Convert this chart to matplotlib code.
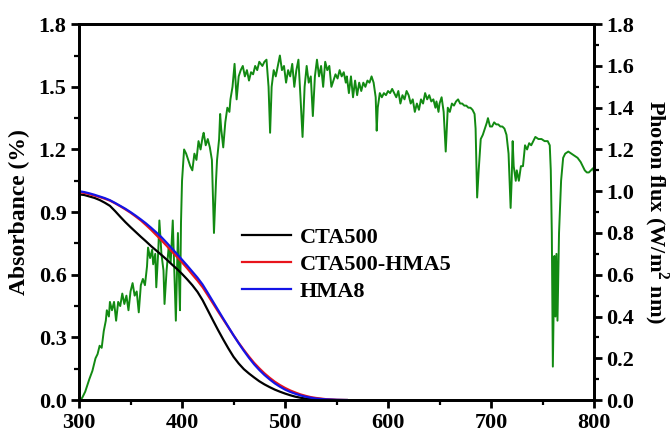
import numpy as np
import matplotlib
matplotlib.use('Agg')
import matplotlib.pyplot as plt
from matplotlib.ticker import MultipleLocator

plt.rcParams['font.family'] = ['Liberation Serif', 'DejaVu Serif']
plt.rcParams['font.weight'] = 'bold'
plt.rcParams['axes.labelweight'] = 'bold'
plt.rcParams['mathtext.fontset'] = 'custom'
plt.rcParams['mathtext.rm'] = 'Liberation Serif:bold'
plt.rcParams['mathtext.bf'] = 'Liberation Serif:bold'

# absorbance curves (left axis)
wl = [300, 305, 310, 315, 320, 325, 330, 335, 340, 345, 350, 355, 360, 365, 370, 375,
      380, 385, 390, 395, 400, 405, 410, 415, 420, 425, 430, 435, 440, 445, 450, 455,
      460, 465, 470, 475, 480, 485, 490, 495, 500, 505, 510, 515, 520, 525, 530, 540,
      550, 560]
cta500 = [0.985, 0.982, 0.975, 0.968, 0.958, 0.945, 0.930, 0.905, 0.878, 0.852, 0.828, 0.805,
          0.782, 0.760, 0.737, 0.716, 0.695, 0.673, 0.650, 0.628, 0.604, 0.578, 0.550, 0.518,
          0.478, 0.430, 0.382, 0.335, 0.290, 0.247, 0.207, 0.175, 0.148, 0.127, 0.108, 0.090,
          0.075, 0.062, 0.050, 0.040, 0.031, 0.023, 0.016, 0.011, 0.007, 0.005, 0.003, 0.001,
          0.0, 0.0]
cta500_hma5 = [0.995, 0.992, 0.986, 0.979, 0.972, 0.964, 0.955, 0.942, 0.928, 0.913, 0.897, 0.879,
               0.860, 0.838, 0.815, 0.790, 0.765, 0.739, 0.712, 0.686, 0.659, 0.631, 0.601, 0.572,
               0.540, 0.502, 0.463, 0.424, 0.386, 0.348, 0.310, 0.274, 0.240, 0.208, 0.178, 0.152,
               0.128, 0.107, 0.088, 0.072, 0.058, 0.046, 0.036, 0.027, 0.020, 0.014, 0.010, 0.004,
               0.001, 0.0]
hma8 = [1.000, 0.996, 0.990, 0.983, 0.975, 0.967, 0.957, 0.944, 0.930, 0.916, 0.900, 0.883,
        0.865, 0.846, 0.825, 0.803, 0.780, 0.754, 0.727, 0.700, 0.672, 0.644, 0.615, 0.586,
        0.553, 0.513, 0.472, 0.431, 0.390, 0.350, 0.310, 0.272, 0.236, 0.202, 0.171, 0.144,
        0.120, 0.099, 0.080, 0.064, 0.050, 0.039, 0.030, 0.022, 0.016, 0.011, 0.007, 0.003,
        0.001, 0.0]

# solar photon flux (right axis)
flux_nm = [300, 303, 306, 310, 313, 316, 318, 320, 322, 324, 326, 327, 329, 330, 332, 334, 336, 338, 340,
           342, 344, 346, 348, 350, 352, 354, 356, 358, 360, 362, 364, 366, 367, 369, 371, 372, 374, 375,
           377, 378, 380, 382, 383, 385, 387, 389, 391, 393, 394, 396, 397, 398, 399, 400, 402, 404, 406,
           408, 410, 412, 414, 416, 418, 420, 421, 423, 425, 427, 429, 431, 433, 434, 436, 437, 438, 440,
           442, 444, 446, 447, 449, 451, 453, 455, 457, 459, 461, 463, 465, 467, 469, 471, 473, 475, 478,
           480, 482, 484, 485.5, 487, 489, 491, 493, 495, 497, 499, 501, 503, 505, 507, 509, 511, 513, 515,
           517, 519, 521, 523, 525, 527, 529, 531, 533, 535, 537, 539, 541, 543, 545, 547, 549, 551, 553,
           555, 557, 559, 560, 562, 564, 566, 568, 570, 572, 574, 576, 578, 580, 582, 584, 586, 588, 589,
           590, 592, 594, 596, 598, 600, 602, 604, 606, 608, 610, 612, 614, 616, 618, 620, 622, 624, 626,
           628, 630, 632, 634, 636, 638, 640, 642, 644, 646, 647, 649, 650, 652, 654, 656, 657, 658, 660,
           662, 664, 666, 668, 670, 672, 674, 676, 678, 680, 682, 684, 685, 686.5, 688, 690, 692, 694, 696,
           697, 699, 701, 703, 705, 707, 709, 711, 713, 715, 717, 719, 720, 721, 722, 724, 725, 727, 729,
           731, 733, 735, 737, 739, 741, 743, 746, 749, 752, 755, 757, 758, 759, 760, 761.5, 762.5, 763.5,
           764.5, 766, 768, 770, 772, 775, 778, 781, 784, 787, 789, 791, 793, 795, 797, 799, 800]
flux_val = [0.0, 0.01, 0.04, 0.10, 0.14, 0.20, 0.22, 0.26, 0.25, 0.33, 0.38, 0.43, 0.40, 0.47, 0.43, 0.47, 0.38, 0.47, 0.45,
            0.51, 0.46, 0.50, 0.43, 0.52, 0.56, 0.50, 0.52, 0.42, 0.55, 0.58, 0.55, 0.64, 0.73, 0.68, 0.72, 0.65, 0.70, 0.54,
            0.72, 0.86, 0.70, 0.62, 0.46, 0.62, 0.73, 0.66, 0.86, 0.55, 0.38, 0.80, 0.60, 0.43, 0.85, 1.05, 1.20, 1.18, 1.15,
            1.12, 1.10, 1.18, 1.15, 1.24, 1.20, 1.26, 1.28, 1.22, 1.25, 1.21, 1.15, 0.80, 1.05, 1.15, 1.25, 1.37, 1.30, 1.21,
            1.33, 1.40, 1.38, 1.44, 1.50, 1.61, 1.44, 1.55, 1.58, 1.60, 1.55, 1.58, 1.53, 1.57, 1.56, 1.60, 1.58, 1.62, 1.60,
            1.62, 1.63, 1.50, 1.28, 1.50, 1.58, 1.55, 1.60, 1.65, 1.58, 1.60, 1.52, 1.58, 1.55, 1.61, 1.50, 1.58, 1.63, 1.45,
            1.26, 1.50, 1.60, 1.52, 1.55, 1.36, 1.55, 1.63, 1.55, 1.60, 1.50, 1.62, 1.58, 1.60, 1.50, 1.53, 1.56, 1.54, 1.58,
            1.55, 1.57, 1.52, 1.55, 1.47, 1.55, 1.45, 1.53, 1.46, 1.52, 1.48, 1.52, 1.50, 1.53, 1.52, 1.55, 1.52, 1.45, 1.29,
            1.40, 1.47, 1.45, 1.47, 1.46, 1.48, 1.47, 1.49, 1.47, 1.45, 1.48, 1.42, 1.46, 1.44, 1.48, 1.46, 1.42, 1.44, 1.38,
            1.42, 1.39, 1.44, 1.42, 1.47, 1.44, 1.46, 1.43, 1.44, 1.40, 1.43, 1.38, 1.42, 1.45, 1.38, 1.19, 1.30, 1.40, 1.38,
            1.42, 1.41, 1.43, 1.44, 1.42, 1.42, 1.41, 1.41, 1.40, 1.40, 1.39, 1.37, 1.30, 0.97, 1.10, 1.25, 1.27, 1.30, 1.33,
            1.35, 1.31, 1.31, 1.33, 1.32, 1.32, 1.31, 1.31, 1.30, 1.27, 1.18, 0.92, 1.05, 1.24, 1.12, 1.05, 1.10, 1.05, 1.12,
            1.12, 1.22, 1.20, 1.23, 1.22, 1.24, 1.26, 1.25, 1.25, 1.24, 1.24, 1.22, 1.10, 0.80, 0.16, 0.69, 0.40, 0.70,
            0.38, 0.80, 1.05, 1.16, 1.18, 1.19, 1.18, 1.17, 1.16, 1.14, 1.12, 1.10, 1.09, 1.09, 1.10, 1.11, 1.09]

fig = plt.figure(figsize=(6.72, 4.32), dpi=100)
ax = fig.add_axes([0.1176, 0.074, 0.7664, 0.870])
ax2 = ax.twinx()

ax2.plot(flux_nm, flux_val, color='#128a12', lw=1.4)
ax.plot(wl, cta500, color='black', lw=1.6, label='CTA500')
ax.plot(wl, cta500_hma5, color='#e8141c', lw=1.6, label='CTA500-HMA5')
ax.plot(wl, hma8, color='#1414e6', lw=1.6, label='HMA8')

ax.set_zorder(ax2.get_zorder() + 1)
ax.patch.set_visible(False)

ax.set_xlim(300, 800)
ax.set_ylim(0, 1.8)
ax2.set_ylim(0, 1.8)
ax.xaxis.set_major_locator(MultipleLocator(100))
ax.xaxis.set_minor_locator(MultipleLocator(50))
ax.yaxis.set_major_locator(MultipleLocator(0.3))
ax.yaxis.set_minor_locator(MultipleLocator(0.15))
ax2.yaxis.set_major_locator(MultipleLocator(0.2))
ax2.yaxis.set_minor_locator(MultipleLocator(0.1))
ax.yaxis.set_major_formatter(plt.FormatStrFormatter('%.1f'))
ax2.yaxis.set_major_formatter(plt.FormatStrFormatter('%.1f'))

for a in (ax, ax2):
    for s in a.spines.values():
        s.set_linewidth(2)
    a.tick_params(which='major', direction='out', length=6, width=2, labelsize=16, pad=3)
    a.tick_params(which='minor', direction='out', length=3.5, width=1.6)

ax.set_ylabel('Absorbance (%)', fontsize=17, labelpad=6)
ax2.set_ylabel(r'Photon flux (W/m$^\mathbf{2}$ nm)', fontsize=16, rotation=270, labelpad=26)

ax.legend(loc='upper left', bbox_to_anchor=(0.316, 0.46), frameon=False, fontsize=16,
          handlelength=2.2, handletextpad=0.4, labelspacing=0.3, borderpad=0, borderaxespad=0)

fig.savefig('out.png', dpi=100)
